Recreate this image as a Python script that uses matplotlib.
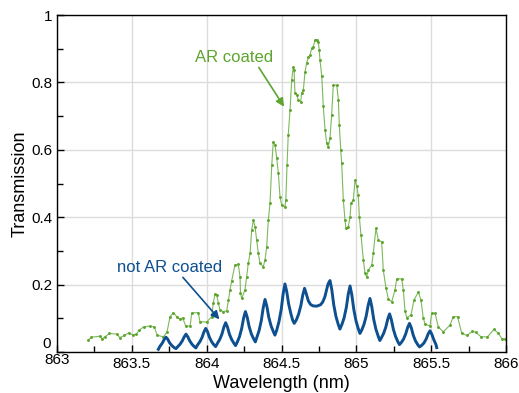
import matplotlib.pyplot as plt
from matplotlib.ticker import MultipleLocator

plt.rcParams['font.family'] = ['Liberation Sans', 'DejaVu Sans']

# AR coated (green) trace
wl_ar = [863.21, 863.23, 863.29, 863.30, 863.32, 863.35, 863.40, 863.42, 863.45, 863.48,
         863.51, 863.53, 863.55, 863.58, 863.62, 863.65, 863.67, 863.71, 863.735, 863.755,
         863.777, 863.80, 863.82, 863.84, 863.86, 863.89, 863.90, 863.944, 863.955, 864.00,
         864.034, 864.044, 864.056, 864.067, 864.078, 864.089, 864.111, 864.134, 864.145, 864.156,
         864.167, 864.189, 864.211, 864.223, 864.226, 864.234, 864.256, 864.267, 864.278, 864.290,
         864.301, 864.312, 864.323, 864.334, 864.345, 864.356, 864.378, 864.390, 864.401, 864.412,
         864.423, 864.435, 864.445, 864.457, 864.468, 864.479, 864.490, 864.501, 864.523, 864.529,
         864.537, 864.545, 864.557, 864.568, 864.579, 864.584, 864.590, 864.602, 864.612, 864.628,
         864.635, 864.646, 864.657, 864.668, 864.679, 864.690, 864.702, 864.712, 864.724, 864.739,
         864.746, 864.752, 864.757, 864.769, 864.779, 864.791, 864.802, 864.813, 864.824, 864.835,
         864.846, 864.869, 864.880, 864.886, 864.896, 864.902, 864.913, 864.924, 864.931, 864.946,
         864.958, 864.964, 864.980, 864.991, 865.002, 865.013, 865.020, 865.031, 865.047, 865.058,
         865.069, 865.080, 865.103, 865.113, 865.131, 865.147, 865.169, 865.180, 865.198, 865.214,
         865.236, 865.258, 865.270, 865.303, 865.314, 865.325, 865.337, 865.365, 865.385, 865.414,
         865.432, 865.447, 865.459, 865.492, 865.503, 865.526, 865.548, 865.581, 865.626, 865.648,
         865.676, 865.704, 865.739, 865.776, 865.800, 865.833, 865.876, 865.920, 865.947, 865.973,
         865.993]
t_ar = [0.036, 0.044, 0.047, 0.038, 0.045, 0.055, 0.053, 0.043, 0.049, 0.057,
        0.050, 0.053, 0.065, 0.075, 0.077, 0.074, 0.050, 0.045, 0.059, 0.104,
        0.117, 0.105, 0.098, 0.101, 0.077, 0.077, 0.116, 0.117, 0.090, 0.089,
        0.105, 0.145, 0.172, 0.169, 0.145, 0.125, 0.120, 0.122, 0.154, 0.184,
        0.211, 0.258, 0.260, 0.223, 0.175, 0.159, 0.184, 0.223, 0.263, 0.293,
        0.362, 0.392, 0.372, 0.332, 0.293, 0.263, 0.253, 0.273, 0.312, 0.392,
        0.441, 0.555, 0.624, 0.614, 0.576, 0.530, 0.461, 0.436, 0.431, 0.451,
        0.555, 0.644, 0.718, 0.807, 0.847, 0.837, 0.769, 0.763, 0.748, 0.743,
        0.769, 0.777, 0.831, 0.857, 0.875, 0.881, 0.901, 0.906, 0.926, 0.926,
        0.920, 0.896, 0.866, 0.819, 0.730, 0.659, 0.619, 0.609, 0.635, 0.703,
        0.792, 0.792, 0.748, 0.674, 0.599, 0.561, 0.451, 0.392, 0.367, 0.372,
        0.401, 0.441, 0.451, 0.510, 0.493, 0.466, 0.401, 0.347, 0.273, 0.234,
        0.223, 0.243, 0.258, 0.293, 0.367, 0.332, 0.327, 0.243, 0.190, 0.157,
        0.149, 0.184, 0.217, 0.217, 0.184, 0.122, 0.102, 0.110, 0.154, 0.178,
        0.154, 0.101, 0.083, 0.077, 0.115, 0.115, 0.074, 0.060, 0.080, 0.105,
        0.105, 0.056, 0.049, 0.062, 0.058, 0.045, 0.045, 0.067, 0.056, 0.040,
        0.038]

# not AR coated (blue) trace, read point by point across each fringe
wl_bare = [863.677, 863.688, 863.703, 863.716, 863.728, 863.740, 863.753, 863.768, 863.783, 863.795,
           863.807, 863.822, 863.837, 863.850, 863.862, 863.874, 863.887, 863.902, 863.917, 863.928,
           863.939, 863.954, 863.969, 863.982, 863.994, 864.006, 864.019, 864.034, 864.049, 864.060,
           864.072, 864.087, 864.102, 864.115, 864.127, 864.139, 864.152, 864.167, 864.182, 864.193,
           864.204, 864.219, 864.234, 864.247, 864.259, 864.271, 864.284, 864.299, 864.314, 864.325,
           864.335, 864.350, 864.365, 864.378, 864.390, 864.402, 864.415, 864.430, 864.445, 864.456,
           864.468, 864.483, 864.498, 864.511, 864.523, 864.535, 864.548, 864.563, 864.575, 864.585,
           864.600, 864.614, 864.629, 864.642, 864.654, 864.666, 864.679, 864.694, 864.710, 864.735,
           864.760, 864.775, 864.790, 864.803, 864.812, 864.824, 864.836, 864.849, 864.864, 864.879,
           864.890, 864.903, 864.918, 864.933, 864.946, 864.958, 864.970, 864.983, 864.998, 865.013,
           865.024, 865.036, 865.051, 865.066, 865.079, 865.091, 865.103, 865.116, 865.131, 865.146,
           865.157, 865.167, 865.182, 865.197, 865.210, 865.222, 865.234, 865.247, 865.262, 865.277,
           865.288, 865.300, 865.315, 865.330, 865.343, 865.355, 865.367, 865.380, 865.395, 865.410,
           865.422, 865.437, 865.452, 865.467, 865.480, 865.492, 865.504, 865.517, 865.532, 865.537]
t_bare = [0.008, 0.017, 0.026, 0.037, 0.044, 0.038, 0.027, 0.019, 0.013, 0.010,
          0.016, 0.023, 0.033, 0.045, 0.053, 0.045, 0.033, 0.023, 0.016, 0.012,
          0.021, 0.030, 0.043, 0.060, 0.070, 0.060, 0.043, 0.030, 0.021, 0.016,
          0.026, 0.037, 0.053, 0.074, 0.087, 0.074, 0.053, 0.037, 0.026, 0.019,
          0.029, 0.045, 0.070, 0.101, 0.120, 0.103, 0.075, 0.053, 0.039, 0.030,
          0.043, 0.063, 0.093, 0.132, 0.156, 0.136, 0.103, 0.078, 0.061, 0.050,
          0.065, 0.090, 0.126, 0.173, 0.202, 0.179, 0.142, 0.113, 0.094, 0.085,
          0.096, 0.112, 0.137, 0.169, 0.189, 0.172, 0.152, 0.141, 0.137, 0.136,
          0.140, 0.148, 0.164, 0.188, 0.203, 0.212, 0.185, 0.140, 0.105, 0.082,
          0.068, 0.081, 0.101, 0.132, 0.172, 0.196, 0.169, 0.126, 0.092, 0.069,
          0.055, 0.065, 0.082, 0.107, 0.139, 0.159, 0.135, 0.097, 0.067, 0.047,
          0.034, 0.042, 0.055, 0.074, 0.098, 0.113, 0.096, 0.068, 0.046, 0.031,
          0.022, 0.028, 0.038, 0.054, 0.073, 0.085, 0.072, 0.050, 0.033, 0.022,
          0.015, 0.020, 0.027, 0.039, 0.054, 0.063, 0.053, 0.037, 0.022, 0.013]

green = '#5da52f'
blue = '#0d4f8f'
x_lo, x_hi = 863, 866
y_lo, y_hi = 0, 1

fig = plt.figure(figsize=(5.19, 3.93), dpi=100)
ax = fig.add_axes([0.1098, 0.1043, 0.8652, 0.8575])

ax.plot(wl_ar, t_ar, color='#7cb95a', lw=0.8, marker='.', ms=2.2,
        mfc=green, mec=green)
ax.plot(wl_bare, t_bare, color=blue, lw=2.1, solid_joinstyle='round')

ax.annotate('AR coated', xy=(864.517, 0.728), xytext=(864.18, 0.875),
            color=green, fontsize=12, ha='center', va='center',
            arrowprops=dict(arrowstyle='-|>', color=green, lw=1.2,
                            mutation_scale=12, shrinkA=0, shrinkB=0,
                            relpos=(0.8, 0.0)))
ax.annotate('not AR coated', xy=(864.085, 0.097), xytext=(863.755, 0.252),
            color=blue, fontsize=12, ha='center', va='center',
            arrowprops=dict(arrowstyle='-|>', color=blue, lw=1.2,
                            mutation_scale=12, shrinkA=0, shrinkB=0,
                            relpos=(0.6, 0.0)))

ax.set_xlim(x_lo, x_hi)
ax.set_ylim(y_lo, y_hi)
ax.xaxis.set_major_locator(MultipleLocator(0.5))
ax.xaxis.set_minor_locator(MultipleLocator(0.25))
ax.yaxis.set_major_locator(MultipleLocator(0.2))
ax.yaxis.set_minor_locator(MultipleLocator(0.1))
# corner labels are drawn separately, nudged apart as in the original
ax.xaxis.set_major_formatter(plt.FuncFormatter(lambda v, p: '' if abs(v - x_lo) < 1e-9 else f'{v:g}'))
ax.yaxis.set_major_formatter(plt.FuncFormatter(lambda v, p: '' if abs(v - y_lo) < 1e-9 else f'{v:g}'))
ax.annotate(f'{x_lo:g}', xy=(x_lo, y_lo), xytext=(0, -1), textcoords='offset points',
            ha='center', va='top', fontsize=11, annotation_clip=False)
ax.annotate(f'{y_lo:g}', xy=(x_lo, y_lo), xytext=(-4.5, 1), textcoords='offset points',
            ha='right', va='bottom', fontsize=11, annotation_clip=False)

ax.tick_params(which='major', direction='in', length=5, width=1, labelsize=11)
ax.tick_params(which='minor', direction='in', length=4, width=1)
ax.grid(True, which='major', color='#dcdcdc', lw=1)
ax.set_axisbelow(True)
for s in ax.spines.values():
    s.set_linewidth(1)

ax.set_xlabel('Wavelength (nm)', fontsize=13, labelpad=3)
ax.set_ylabel('Transmission', fontsize=13, labelpad=2)

fig.savefig('out.png', dpi=100)
